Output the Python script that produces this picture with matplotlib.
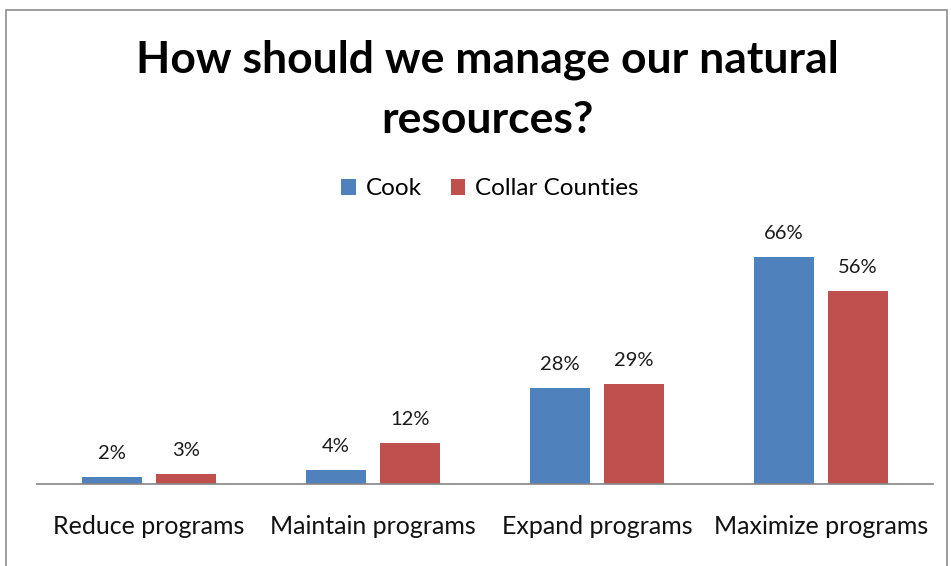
import numpy as np
import matplotlib.pyplot as plt
from matplotlib.patches import Rectangle

categories = ['Reduce programs', 'Maintain programs', 'Expand programs', 'Maximize programs']
cook = [2, 4, 28, 66]
collar = [3, 12, 29, 56]
series_names = ['Cook', 'Collar Counties']

blue = '#4F81BD'
red = '#C0504D'

plt.rcParams['font.family'] = ['Lato', 'DejaVu Sans']

fig = plt.figure(figsize=(9.51, 5.66), dpi=100)

# outer frame of the chart area
fig.patches.append(Rectangle((6 / 951, -0.01), 941 / 951, (566 - 10) / 566 + 0.01,
                             transform=fig.transFigure, fill=False,
                             edgecolor='#8c8c8c', linewidth=1.2))

ax = fig.add_axes([37 / 951, 82 / 566, 896 / 951, 241 / 566])
x = np.arange(len(categories))
w = 0.264
off = 0.165
b1 = ax.bar(x - off, cook, w, color=blue, label=series_names[0])
b2 = ax.bar(x + off, collar, w, color=red, label=series_names[1])

for bars, vals in ((b1, cook), (b2, collar)):
    for r, v in zip(bars, vals):
        ax.text(r.get_x() + r.get_width() / 2, v + 4.3, f'{v}%', ha='center',
                va='bottom', fontsize=14.5, color='#1a1a1a')

ax.set_xlim(-0.5, len(categories) - 0.5)
ax.set_ylim(0, 70)
ax.set_xticks(x)
ax.set_xticklabels(categories, fontsize=18, color='#111111')
ax.tick_params(axis='x', length=0, pad=22)
ax.set_yticks([])
for s in ['top', 'right', 'left']:
    ax.spines[s].set_visible(False)
ax.spines['bottom'].set_color('#868686')
ax.spines['bottom'].set_linewidth(1.2)

fig.text(487 / 951, 1 - 60 / 566, 'How should we manage our natural', ha='center',
         va='center', fontsize=32, fontweight='bold', color='black')
fig.text(487 / 951, 1 - 120 / 566, 'resources?', ha='center', va='center',
         fontsize=32, fontweight='bold', color='black')

fig.legend(handles=[b1, b2], labels=series_names, loc='center',
           bbox_to_anchor=(490 / 951, 1 - 189 / 566), ncol=2, frameon=False,
           fontsize=17.5, handlelength=0.6, handleheight=0.6, handletextpad=0.4,
           columnspacing=1.2)

fig.savefig('out.png', dpi=100)
